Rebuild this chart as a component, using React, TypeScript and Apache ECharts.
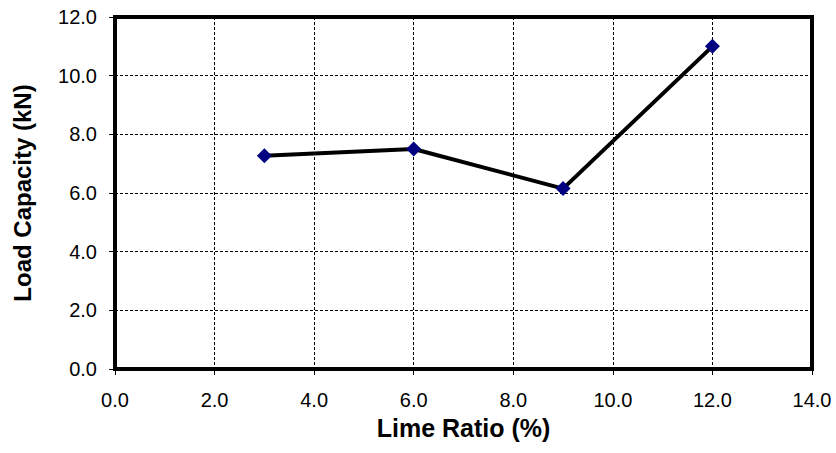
import React, { useEffect, useRef } from "react";
import * as echarts from "echarts";

const limeRatio = [3, 6, 9, 12];
const loadCapacity = [7.27, 7.5, 6.15, 11.0];
const xTitle = "Lime Ratio (%)";
const yTitle = "Load Capacity (kN)";

export default function App() {
  const ref = useRef<HTMLDivElement>(null);
  useEffect(() => {
    if (!ref.current) return;
    const chart = echarts.init(ref.current, null, { renderer: "svg" });
    const font = "'Liberation Sans', Arial, sans-serif";
    chart.setOption({
      animation: false,
      grid: {
        left: 115,
        right: 24,
        top: 17,
        bottom: 84,
        show: true,
        borderColor: "#000",
        borderWidth: 4,
        backgroundColor: "transparent",
      },
      xAxis: {
        type: "value",
        min: 0,
        max: 14,
        interval: 2,
        name: xTitle,
        nameLocation: "middle",
        nameGap: 46,
        nameTextStyle: { fontFamily: font, fontWeight: "bold", fontSize: 25, color: "#000" },
        axisLine: { show: false },
        axisTick: { show: true, length: 6, lineStyle: { color: "#000", width: 1 } },
        axisLabel: {
          margin: 21,
          fontFamily: font,
          fontSize: 20,
          color: "#000",
          formatter: (v: number) => v.toFixed(1),
        },
        splitLine: { show: true, lineStyle: { color: "#000", width: 1, type: [3, 2] } },
      },
      yAxis: {
        type: "value",
        min: 0,
        max: 12,
        interval: 2,
        name: yTitle,
        nameLocation: "middle",
        nameGap: 81,
        nameRotate: 90,
        nameTextStyle: { fontFamily: font, fontWeight: "bold", fontSize: 24, color: "#000" },
        axisLine: { show: false },
        axisTick: { show: true, length: 6, lineStyle: { color: "#000", width: 1 } },
        axisLabel: {
          margin: 18,
          fontFamily: font,
          fontSize: 20,
          color: "#000",
          formatter: (v: number) => v.toFixed(1),
        },
        splitLine: { show: true, lineStyle: { color: "#000", width: 1, type: [3, 2] } },
      },
      series: [
        {
          type: "line",
          data: limeRatio.map((x, i) => [x, loadCapacity[i]]),
          symbol: "diamond",
          symbolSize: 15,
          itemStyle: { color: "#000080" },
          lineStyle: { color: "#000", width: 4 },
          z: 5,
        },
      ],
    });
    return () => chart.dispose();
  }, []);
  return (
    <div
      ref={ref}
      style={{ position: "absolute", left: 0, top: 0, width: 836, height: 453 }}
    />
  );
}
